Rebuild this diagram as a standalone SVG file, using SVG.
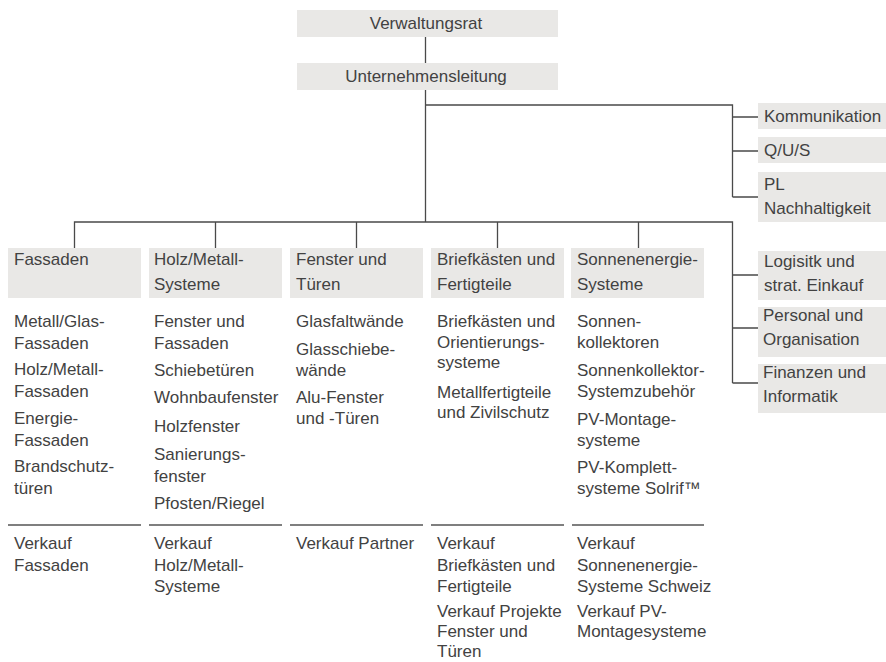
<svg xmlns="http://www.w3.org/2000/svg" width="886" height="662" viewBox="0 0 886 662">
<style>
.box{fill:#e9e8e6}
.t{font-family:"Liberation Sans",Arial,sans-serif;font-size:17px;fill:#424242}
.c{fill:none;stroke:#4a4a4a;stroke-width:1.3}
.sep{stroke:#555;stroke-width:1.3}
</style>
<rect width="886" height="662" fill="#fff"/>
<g id="connectors">
<path class="c" d="M425.5 37V63M425.5 90V222M425.5 105H732.5V197M732.5 117H758M732.5 151H758M732.5 197H758"/>
<path class="c" d="M74.5 248V222H732.5V383M215.5 222V248M356.5 222V248M497.5 222V248M638.5 222V248M732.5 275H758M732.5 328H758M732.5 383H758"/>
</g>
<g id="verwaltungsrat"><rect class="box" x="297" y="10" width="261" height="27"/><text class="t" x="426" y="29" text-anchor="middle">Verwaltungsrat</text></g>
<g id="unternehmensleitung"><rect class="box" x="297" y="63" width="261" height="27"/><text class="t" x="426" y="82" text-anchor="middle">Unternehmensleitung</text></g>
<g id="kommunikation"><rect class="box" x="758" y="103" width="128" height="26"/><text class="t" x="764" y="122">Kommunikation</text></g>
<g id="qus"><rect class="box" x="758" y="137" width="128" height="26"/><text class="t" x="764" y="156">Q/U/S</text></g>
<g id="pl"><rect class="box" x="758" y="172" width="128" height="50"/><text class="t" x="764" y="190">PL</text><text class="t" x="764" y="214">Nachhaltigkeit</text></g>
<g id="logistik"><rect class="box" x="758" y="251" width="128" height="49"/><text class="t" x="764" y="267">Logisitk und</text><text class="t" x="764" y="291">strat. Einkauf</text></g>
<g id="personal"><rect class="box" x="758" y="307" width="128" height="50"/><text class="t" x="763" y="321">Personal und</text><text class="t" x="763" y="345">Organisation</text></g>
<g id="finanzen"><rect class="box" x="758" y="364" width="128" height="49"/><text class="t" x="763" y="378">Finanzen und</text><text class="t" x="763" y="402">Informatik</text></g>

<g id="fassaden">
<rect class="box" x="8" y="248" width="133" height="50"/>
<text class="t" x="14" y="265">Fassaden</text>
<text class="t" x="14" y="327">Metall/Glas-</text>
<text class="t" x="14" y="349">Fassaden</text>
<text class="t" x="14" y="375">Holz/Metall-</text>
<text class="t" x="14" y="397">Fassaden</text>
<text class="t" x="14" y="424">Energie-</text>
<text class="t" x="14" y="446">Fassaden</text>
<text class="t" x="14" y="472">Brandschutz-</text>
<text class="t" x="14" y="494">türen</text>
<line class="sep" x1="8" y1="525" x2="141" y2="525"/>
<text class="t" x="14" y="549">Verkauf</text>
<text class="t" x="14" y="571">Fassaden</text>
</g>
<g id="holzmetall">
<rect class="box" x="149" y="248" width="133" height="50"/>
<text class="t" x="154" y="265">Holz/Metall-</text>
<text class="t" x="154" y="290">Systeme</text>
<text class="t" x="154" y="327">Fenster und</text>
<text class="t" x="154" y="349">Fassaden</text>
<text class="t" x="154" y="376">Schiebetüren</text>
<text class="t" x="154" y="403">Wohnbaufenster</text>
<text class="t" x="154" y="432">Holzfenster</text>
<text class="t" x="154" y="460">Sanierungs-</text>
<text class="t" x="154" y="482">fenster</text>
<text class="t" x="154" y="509">Pfosten/Riegel</text>
<line class="sep" x1="149" y1="525" x2="282" y2="525"/>
<text class="t" x="154" y="549">Verkauf</text>
<text class="t" x="154" y="571">Holz/Metall-</text>
<text class="t" x="154" y="592">Systeme</text>
</g>
<g id="fenster">
<rect class="box" x="290" y="248" width="133" height="50"/>
<text class="t" x="296" y="265">Fenster und</text>
<text class="t" x="296" y="290">Türen</text>
<text class="t" x="296" y="327">Glasfaltwände</text>
<text class="t" x="296" y="355">Glasschiebe-</text>
<text class="t" x="296" y="376">wände</text>
<text class="t" x="296" y="403">Alu-Fenster</text>
<text class="t" x="296" y="424">und -Türen</text>
<line class="sep" x1="290" y1="525" x2="423" y2="525"/>
<text class="t" x="296" y="549">Verkauf Partner</text>
</g>
<g id="briefkaesten">
<rect class="box" x="431" y="248" width="133" height="50"/>
<text class="t" x="437" y="265">Briefkästen und</text>
<text class="t" x="437" y="290">Fertigteile</text>
<text class="t" x="437" y="327">Briefkästen und</text>
<text class="t" x="437" y="348">Orientierungs-</text>
<text class="t" x="437" y="368">systeme</text>
<text class="t" x="437" y="398">Metallfertigteile</text>
<text class="t" x="437" y="418">und Zivilschutz</text>
<line class="sep" x1="431" y1="525" x2="564" y2="525"/>
<text class="t" x="437" y="549">Verkauf</text>
<text class="t" x="437" y="571">Briefkästen und</text>
<text class="t" x="437" y="592">Fertigteile</text>
<text class="t" x="437" y="617">Verkauf Projekte</text>
<text class="t" x="437" y="637">Fenster und</text>
<text class="t" x="437" y="657">Türen</text>
</g>
<g id="sonnenenergie">
<rect class="box" x="571" y="248" width="133" height="50"/>
<text class="t" x="577" y="265">Sonnenenergie-</text>
<text class="t" x="577" y="290">Systeme</text>
<text class="t" x="577" y="327">Sonnen-</text>
<text class="t" x="577" y="348">kollektoren</text>
<text class="t" x="577" y="376">Sonnenkollektor-</text>
<text class="t" x="577" y="397">Systemzubehör</text>
<text class="t" x="577" y="425">PV-Montage-</text>
<text class="t" x="577" y="446">systeme</text>
<text class="t" x="577" y="473">PV-Komplett-</text>
<text class="t" x="577" y="494">systeme Solrif™</text>
<line class="sep" x1="572" y1="525" x2="704" y2="525"/>
<text class="t" x="577" y="549">Verkauf</text>
<text class="t" x="577" y="571">Sonnenenergie-</text>
<text class="t" x="577" y="592">Systeme Schweiz</text>
<text class="t" x="577" y="617">Verkauf PV-</text>
<text class="t" x="577" y="637">Montagesysteme</text>
</g>
</svg>
